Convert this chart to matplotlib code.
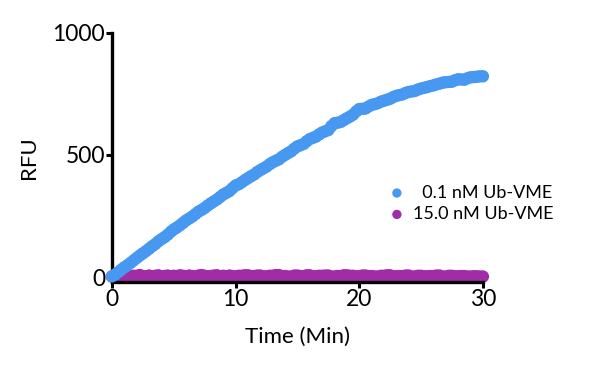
import matplotlib
matplotlib.use("Agg")
import matplotlib.pyplot as plt
import numpy as np

plt.rcParams['font.family'] = ['Lato', 'DejaVu Sans']

# readings every 15 s (0.25 min)
time_min = np.arange(121) * 0.25
rfu_low = [3, 10, 20, 30, 40, 48, 58, 68, 78, 88,
           97, 106, 116, 126, 135, 146, 155, 163, 173, 185,
           195, 203, 212, 222, 232, 240, 248, 258, 268, 275,
           283, 293, 302, 310, 318, 328, 338, 345, 352, 364,
           375, 380, 388, 397, 405, 413, 420, 430, 438, 445,
           452, 462, 470, 476, 482, 492, 500, 508, 515, 526,
           535, 540, 545, 556, 565, 570, 575, 584, 592, 597,
           602, 618, 630, 632, 635, 643, 650, 657, 665, 678,
           688, 689, 690, 698, 705, 708, 712, 718, 722, 726,
           730, 737, 742, 745, 748, 754, 758, 760, 762, 768,
           772, 775, 778, 782, 785, 789, 792, 796, 798, 799,
           800, 806, 810, 809, 808, 814, 818, 819, 820, 822,
           822]
rfu_high = [2, 4, 6, 3, 4, 7, 3, 5, 5, 8,
            4, 2, 6, 3, 5, 7, 2, 4, 6, 3,
            5, 4, 7, 5, 3, 6, 4, 2, 6, 8,
            5, 3, 4, 6, 7, 3, 5, 2, 6, 4,
            2, 5, 5, 7, 7, 3, 4, 6, 6, 2,
            3, 5, 5, 8, 8, 3, 4, 2, 2, 6,
            6, 4, 4, 7, 7, 3, 3, 5, 5, 6,
            6, 2, 2, 4, 4, 7, 7, 5, 5, 3,
            3, 6, 6, 4, 4, 2, 2, 5, 5, 7,
            7, 3, 3, 4, 4, 6, 6, 2, 2, 5,
            5, 3, 3, 4, 4, 6, 6, 2, 2, 5,
            5, 3, 3, 4, 4, 2, 2, 3, 3, 2,
            2]

labels = ['  0.1 nM Ub-VME', '15.0 nM Ub-VME']
blue = '#4798f0'
purple = '#a12ca8'

fig = plt.figure(figsize=(6.07, 3.82), dpi=100)
ax = fig.add_axes([0.1845, 0.262, 0.611, 0.652])

ax.scatter(time_min, rfu_high, s=80, color=purple, edgecolors='none',
           clip_on=False, zorder=2, label=labels[1])
ax.scatter(time_min, rfu_low, s=80, color=blue, edgecolors='none',
           clip_on=False, zorder=3, label=labels[0])

ax.set_xlim(0, 30)
ax.set_ylim(-20, 1000)
ax.set_xticks([0, 10, 20, 30])
ax.set_yticks([0, 500, 1000])

for side in ['top', 'right']:
    ax.spines[side].set_visible(False)
ax.spines['left'].set_linewidth(2.4)
ax.spines['bottom'].set_linewidth(2.4)
ax.tick_params(axis='both', direction='out', length=4, width=2.2,
               labelsize=16.5, pad=1, colors='black')

ax.set_xlabel('Time (Min)', fontsize=16, labelpad=12)
ax.set_ylabel('RFU', fontsize=16, labelpad=10)

handles, labs = ax.get_legend_handles_labels()
ax.legend(handles[::-1], labs[::-1], loc='center left',
          bbox_to_anchor=(0.70, 0.315), frameon=False, fontsize=13,
          handletextpad=0.4, labelspacing=0.3, markerscale=0.75,
          handlelength=1.0)

fig.savefig('out.png', dpi=100)
